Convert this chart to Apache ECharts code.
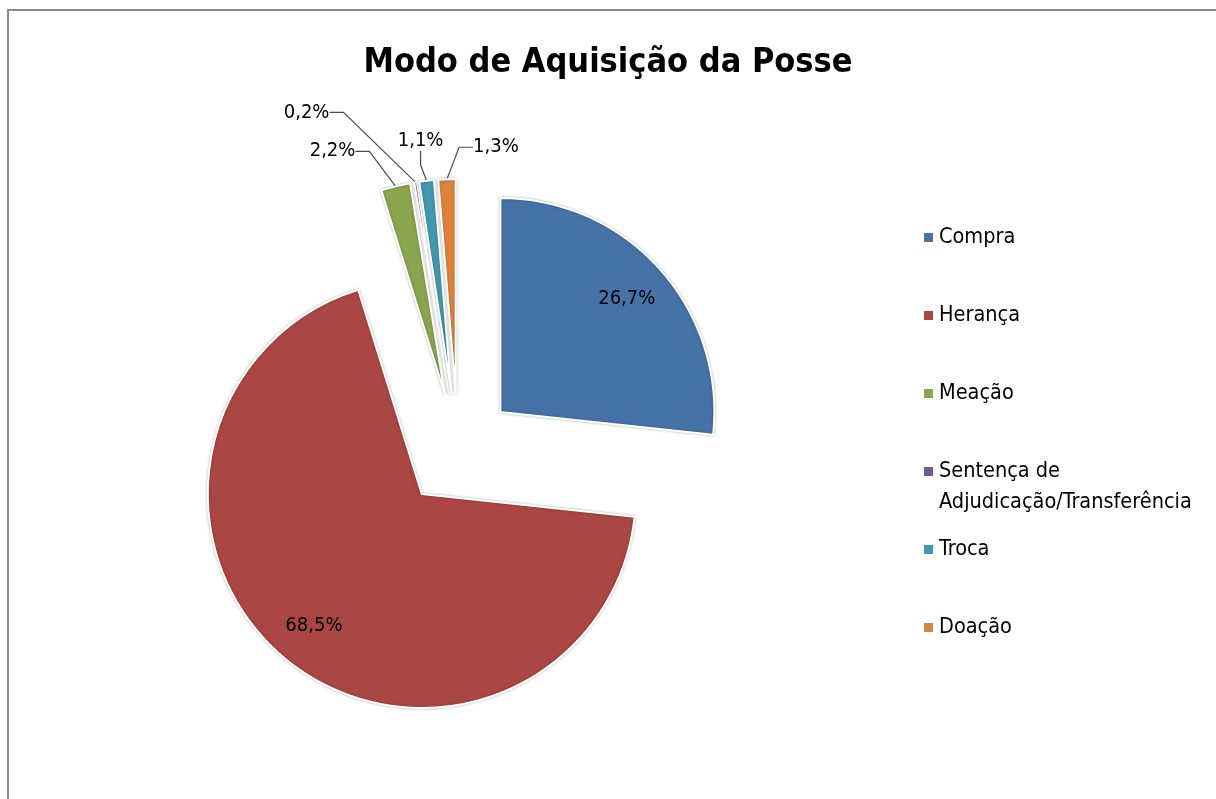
<!DOCTYPE html>
<html>
<head>
<meta charset="utf-8">
<title>Modo de Aquisição da Posse</title>
<script src="https://cdn.jsdelivr.net/npm/echarts@6/dist/echarts.min.js"></script>
<style>
    html, body { margin: 0; padding: 0; background: #fff; }
    #main { width: 1216px; height: 799px; }
</style>
</head>
<body>
<div id="main"></div>
<script>
var categories = ['Compra', 'Herança', 'Meação', 'Sentença de Adjudicação/Transferência', 'Troca', 'Doação'];
var percentValues = [26.7, 68.5, 2.2, 0.2, 1.1, 1.3];
var sliceColors = ['#4572A7', '#AA4643', '#89A54E', '#71588F', '#4198AF', '#DB843D'];

var FONT = '"Liberation Sans Narrow", "DejaVu Sans Condensed", sans-serif';
var CENTER = [458, 450];
var RADIUS = 214;
var EXPLODE = 57;

window.onload = function () {
    var myChart = echarts.init(document.getElementById('main'));

    function formatPercent(value) {
        return value.toFixed(1).replace('.', ',') + '%';
    }

    // big slices keep their label inside, the thin ones get leader lines
    var insideNames = ['Compra', 'Herança'];

    // label centre of the thin slices, measured from the tip of the slice
    var labelShift = {
        'Meação': [-63, -35],
        'Sentença de Adjudicação/Transferência': [-109, -70],
        'Troca': [-6, -40],
        'Doação': [49, -32]
    };

    function pieData(withColor, labelTest) {
        return categories.map(function (name, i) {
            var item = {
                name: name,
                value: percentValues[i],
                label: { show: labelTest(name) },
                labelLine: { show: labelTest(name) }
            };
            if (withColor) {
                item.itemStyle = { color: sliceColors[i] };
            }
            return item;
        });
    }

    function isInside(name) { return insideNames.indexOf(name) >= 0; }
    function isOutside(name) { return !isInside(name); }
    function never() { return false; }

    var sliceData = pieData(true, never);
    var insideLabelData = pieData(false, isInside);
    var outsideLabelData = pieData(false, isOutside);
    sliceData.concat(insideLabelData).forEach(function (d) { d.selected = true; });

    var legendBase = {
        orient: 'vertical',
        left: 917,
        itemWidth: 11,
        itemHeight: 11,
        itemGap: 47,
        icon: 'rect',
        selectedMode: false,
        textStyle: {
            fontFamily: FONT,
            fontSize: 21.5,
            color: '#000',
            lineHeight: 31
        }
    };

    var labelText = {
        fontFamily: FONT,
        fontSize: 20,
        color: '#000',
        formatter: function (p) { return formatPercent(p.value); }
    };

    var option = {
        animation: false,
        title: {
            text: 'Modo de Aquisição da Posse',
            left: 'center',
            top: 41,
            textStyle: {
                fontFamily: FONT,
                fontSize: 34,
                fontWeight: 'bold',
                color: '#000'
            }
        },
        graphic: [{
            type: 'rect',
            shape: { x: 8, y: 10, width: 1300, height: 900 },
            style: { fill: 'none', stroke: '#898989', lineWidth: 2 },
            silent: true
        }],
        legend: [
            echarts.util.merge({ top: 217, data: categories.slice(0, 3) }, legendBase),
            echarts.util.merge({
                top: 420,
                // leading empty line keeps the marker beside the first text line
                formatter: function () { return '\nSentença de\nAdjudicação/Transferência'; },
                data: [categories[3]]
            }, legendBase),
            echarts.util.merge({ top: 529, data: categories.slice(4) }, legendBase)
        ],
        series: [{
            name: 'Modo de Aquisição da Posse',
            type: 'pie',
            center: CENTER,
            radius: RADIUS,
            startAngle: 90,
            clockwise: true,
            selectedMode: 'multiple',
            selectedOffset: EXPLODE,
            emphasis: { disabled: true },
            itemStyle: {
                borderColor: '#fff',
                borderWidth: 2,
                shadowBlur: 3,
                shadowColor: 'rgba(0,0,0,0.25)'
            },
            select: {
                itemStyle: { borderColor: '#fff', borderWidth: 2 }
            },
            data: sliceData
        }, {
            // transparent ring, exploded like the slices, carrying the inside labels
            name: 'inside labels',
            type: 'pie',
            center: CENTER,
            radius: [RADIUS * 0.56, RADIUS],
            startAngle: 90,
            clockwise: true,
            selectedMode: 'multiple',
            selectedOffset: EXPLODE,
            silent: true,
            emphasis: { disabled: true },
            itemStyle: { color: 'rgba(0,0,0,0)' },
            select: { itemStyle: { color: 'rgba(0,0,0,0)' } },
            label: echarts.util.extend({ position: 'inside' }, labelText),
            labelLine: { show: false },
            data: insideLabelData
        }, {
            // transparent disc reaching the exploded tips, carrying the leader-line labels
            name: 'outside labels',
            type: 'pie',
            center: CENTER,
            radius: RADIUS + EXPLODE,
            startAngle: 90,
            clockwise: true,
            selectedMode: false,
            minShowLabelAngle: 0,
            silent: true,
            emphasis: { disabled: true },
            itemStyle: { color: 'rgba(0,0,0,0)' },
            label: echarts.util.extend({ position: 'outside' }, labelText),
            labelLine: {
                length: 15,
                length2: 14,
                lineStyle: { color: '#4d4d4d', width: 1.2 }
            },
            labelLayout: function (params) {
                var shift = labelShift[categories[params.dataIndex]];
                if (!shift || !params.labelLinePoints) {
                    return {};
                }
                var tip = params.labelLinePoints[0];
                return {
                    x: tip[0] + shift[0],
                    y: tip[1] + shift[1],
                    align: 'center',
                    verticalAlign: 'middle'
                };
            },
            data: outsideLabelData
        }]
    };

    myChart.setOption(option);
};
</script>
</body>
</html>
